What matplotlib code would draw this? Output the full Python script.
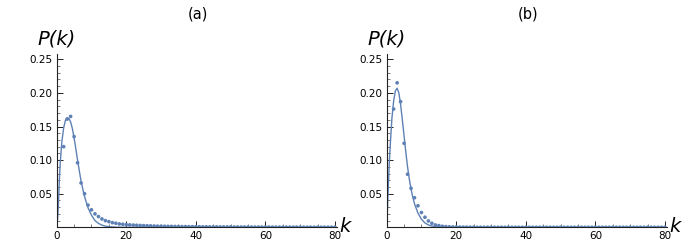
import matplotlib
matplotlib.use('Agg')
import matplotlib.pyplot as plt
from matplotlib.ticker import MultipleLocator, FixedLocator

# simulated degree distribution, k = 2 .. 80
k_pts = list(range(2, 81))
p_a = [0.120, 0.161, 0.165, 0.135, 0.096, 0.066, 0.050, 0.033, 0.026,
       0.020, 0.016, 0.0124, 0.0099, 0.0084, 0.0069, 0.0060, 0.0050, 0.0045,
       0.0040, 0.0036, 0.0033, 0.0030, 0.0027, 0.0025, 0.0023, 0.0021, 0.0019,
       0.0017, 0.0016, 0.0015, 0.0014, 0.0013, 0.0012, 0.0011, 0.0010, 0.0010,
       0.0009, 0.0009, 0.0008, 0.0008, 0.0007, 0.0007, 0.0006, 0.0006, 0.0006,
       0.0005, 0.0005, 0.0005, 0.0005, 0.0004, 0.0004, 0.0004, 0.0004, 0.0004,
       0.0003, 0.0003, 0.0003, 0.0003, 0.0003, 0.0003, 0.0002, 0.0002, 0.0002,
       0.0002, 0.0002, 0.0002, 0.0002, 0.0002, 0.0001, 0.0001, 0.0001, 0.0001,
       0.0001, 0.0001, 0.0001, 0.0001, 0.0001, 0.0001, 0.0001]
p_b = [0.176, 0.215, 0.187, 0.125, 0.079, 0.058, 0.044, 0.032, 0.022,
       0.015, 0.0094, 0.006, 0.0035, 0.0025, 0.0015, 0.0010, 0.0007, 0.0005,
       0.0004, 0.0003, 0.0002, 0.0002, 0.0001, 0.0001] + [0.0] * 55

# fitted curves
k_fit = [0, 0.25, 0.5, 0.75, 1, 1.5, 2, 2.5, 3, 3.5, 4, 4.5, 5, 5.5, 6, 6.5,
         7, 7.5, 8, 9, 10, 11, 12, 13, 14, 15, 17, 20, 80]
fit_a = [0, 0.012, 0.035, 0.068, 0.095, 0.128, 0.148, 0.159, 0.163, 0.162,
         0.157, 0.147, 0.133, 0.117, 0.100, 0.084, 0.069, 0.057, 0.046, 0.029,
         0.018, 0.010, 0.0058, 0.0032, 0.0017, 0.0009, 0.0002, 0, 0]
fit_b = [0, 0.03, 0.065, 0.095, 0.12, 0.162, 0.188, 0.203, 0.207, 0.200,
         0.183, 0.160, 0.136, 0.112, 0.090, 0.072, 0.057, 0.045, 0.035, 0.021,
         0.012, 0.0065, 0.0035, 0.0018, 0.0009, 0.0004, 0.0001, 0, 0]

y_ticks = [0.05, 0.10, 0.15, 0.20, 0.25]
x_ticks = [0, 20, 40, 60, 80]

blue = '#5e81b5'
fig = plt.figure(figsize=(7, 2.48), dpi=100)

panels = [('(a)', 0.081, p_a, fit_a), ('(b)', 0.5524, p_b, fit_b)]
for title, left, pts, fit in panels:
    ax = fig.add_axes([left, 0.0835, 0.4, 0.699])
    ax.plot(k_fit, fit, color=blue, lw=1.0, zorder=2)
    ax.scatter(k_pts, pts, s=7, color=blue, edgecolor='none', zorder=3)
    ax.set_xlim(0, 80.5)
    ax.set_ylim(0, 0.258)
    ax.spines['top'].set_visible(False)
    ax.spines['right'].set_visible(False)
    for s in ['left', 'bottom']:
        ax.spines[s].set_color('#222222')
        ax.spines[s].set_linewidth(0.8)
    ax.yaxis.set_major_locator(FixedLocator(y_ticks))
    ax.set_yticklabels(['%.2f' % v for v in y_ticks])
    ax.yaxis.set_minor_locator(MultipleLocator(0.01))
    ax.xaxis.set_major_locator(FixedLocator(x_ticks))
    ax.xaxis.set_minor_locator(MultipleLocator(5))
    ax.tick_params(which='major', direction='in', length=4, width=0.7,
                   labelsize=7.5, pad=3, color='#222222')
    ax.tick_params(which='minor', direction='in', length=2, width=0.5,
                   color='#444444')
    ax.text(0, 1.087, 'P(k)', transform=ax.transAxes, fontsize=14,
            style='italic', ha='center', va='center')
    ax.text(1.01, 0.005, 'k', transform=ax.transAxes, fontsize=14,
            style='italic', ha='left', va='center')
    fig.text(left + 0.202, 0.945, title, fontsize=10.5, ha='center', va='center')

plt.savefig('out.png', dpi=100)
